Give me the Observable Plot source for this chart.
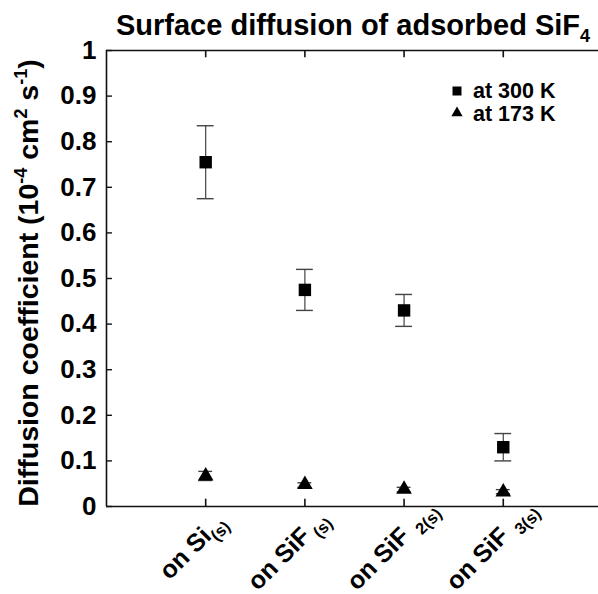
<!DOCTYPE html>
<html><head><meta charset="utf-8">
<script src="https://cdn.jsdelivr.net/npm/d3@7"></script>
<script src="https://cdn.jsdelivr.net/npm/@observablehq/plot@0.6"></script>
<style>body{margin:0;background:#fff;} svg{display:block;}</style>
</head><body><div id="chart"></div>
<script>
const categories = ["Si", "SiF", "SiF2", "SiF3"];
const catMain = ["on Si", "on SiF", "on SiF", "on SiF"];
const catSub = ["(s)", " (s)", "  2(s)", "  3(s)"];
const positions = [1, 2, 3, 4];
const d300 = [0.755, 0.475, 0.430, 0.130];
const e300lo = [0.675, 0.430, 0.395, 0.100];
const e300hi = [0.835, 0.520, 0.465, 0.160];
const d173 = [0.067, 0.048, 0.038, 0.032];
const e173lo = [0.057, 0.042, 0.032, 0.028];
const e173hi = [0.077, 0.052, 0.042, 0.037];
const yTicks = [0, 0.1, 0.2, 0.3, 0.4, 0.5, 0.6, 0.7, 0.8, 0.9, 1];
const yTickLabels = ["0", "0.1", "0.2", "0.3", "0.4", "0.5", "0.6", "0.7", "0.8", "0.9", "1"];
const legendLabels = ["at 300 K", "at 173 K"];

const s300 = positions.map((p, i) => ({x: p, y: d300[i], lo: e300lo[i], hi: e300hi[i]}));
const s173 = positions.map((p, i) => ({x: p, y: d173[i], lo: e173lo[i], hi: e173hi[i]}));
const labels = positions.map((p, i) => ({x: p, main: catMain[i], sub: catSub[i]}));
const font = "'Liberation Sans', Arial, Helvetica, sans-serif";
const cap3 = 0.085, cap1 = 0.07;

const plot = Plot.plot({
  width: 598, height: 594,
  marginTop: 50, marginBottom: 88, marginLeft: 106, marginRight: 0,
  style: {fontFamily: font, background: "#fff"},
  x: {domain: [0, 4.96], axis: null},
  y: {domain: [0, 1], axis: null},
  marks: [
    Plot.ruleX([0], {stroke: "#111", strokeWidth: 1.6}),
    Plot.ruleY([0, 1], {stroke: "#111", strokeWidth: 1.6}),
    Plot.ruleY(yTicks, {x1: 0, x2: 0.06, stroke: "#111", strokeWidth: 1.4}),
    Plot.ruleX(positions, {y1: 0, y2: 0.016, stroke: "#111", strokeWidth: 1.6}),
    Plot.ruleX(positions, {y1: 1, y2: 0.984, stroke: "#111", strokeWidth: 1.6}),
    Plot.text(yTicks, {x: 0, y: d => d, text: (d, i) => yTickLabels[i], textAnchor: "end", dx: -10, fontSize: 26, fontWeight: "bold", fill: "#000"}),
    Plot.ruleX(s300, {x: "x", y1: "lo", y2: "hi", stroke: "#444", strokeWidth: 1.2}),
    Plot.ruleY(s300, {y: "lo", x1: d => d.x - cap3, x2: d => d.x + cap3, stroke: "#444", strokeWidth: 1.4}),
    Plot.ruleY(s300, {y: "hi", x1: d => d.x - cap3, x2: d => d.x + cap3, stroke: "#444", strokeWidth: 1.4}),
    Plot.ruleX(s173, {x: "x", y1: "lo", y2: "hi", stroke: "#444", strokeWidth: 1.2}),
    Plot.ruleY(s173, {y: "lo", x1: d => d.x - cap1, x2: d => d.x + cap1, stroke: "#444", strokeWidth: 1.4}),
    Plot.ruleY(s173, {y: "hi", x1: d => d.x - cap1, x2: d => d.x + cap1, stroke: "#444", strokeWidth: 1.4}),
    Plot.dot(s300, {x: "x", y: "y", symbol: "square", r: 7, fill: "#000", stroke: "none"}),
    Plot.dot(s173, {x: "x", y: "y", symbol: "triangle", r: 5.8, fill: "#000", stroke: "none"}),
    // x category labels, rotated
    Plot.text(labels, {x: "x", y: 0, text: "main", rotate: -45, textAnchor: "end", lineAnchor: "bottom",
      dx: 7, dy: 31, fontSize: 25, fontWeight: "bold", fill: "#000"}),
    Plot.text(labels, {x: "x", y: 0, text: "sub", rotate: -45, textAnchor: "start", lineAnchor: "bottom",
      dx: 11.5, dy: 35.5, fontSize: 16.5, fontWeight: "bold", fill: "#000"})
  ]
});

const svg = d3.select(plot);
const ys = plot.scale("y");

// title
const title = svg.append("text").attr("x", 353).attr("y", 35).attr("text-anchor", "middle")
  .attr("font-family", font).attr("font-weight", "bold").attr("font-size", 29).attr("fill", "#000");
title.append("tspan").text("Surface diffusion of adsorbed SiF");
title.append("tspan").attr("font-size", 18).attr("dy", 7).text("4");

// y label
const yl = svg.append("g").attr("transform", `translate(38,${(ys.apply(0) + ys.apply(1)) / 2 + 5})`)
  .append("text").attr("transform", "rotate(-90)")
  .attr("text-anchor", "middle").attr("font-family", font).attr("font-weight", "bold").attr("font-size", 28.5).attr("fill", "#000");
yl.append("tspan").text("Diffusion coefficient (10");
yl.append("tspan").attr("font-size", 18).attr("dy", -11).text("-4");
yl.append("tspan").attr("dy", 11).text(" cm");
yl.append("tspan").attr("font-size", 18).attr("dy", -11).text("2");
yl.append("tspan").attr("dy", 11).text(" s");
yl.append("tspan").attr("font-size", 18).attr("dy", -11).text("-1");
yl.append("tspan").attr("dy", 11).text(")");

// legend
const lx = 457, ly = [91, 113], lb = [98, 121];
legendLabels.forEach((lab, i) => {
  svg.append("path").attr("transform", `translate(${lx},${ly[i]})`)
    .attr("d", d3.symbol(i === 0 ? d3.symbolSquare : d3.symbolTriangle, i === 0 ? 81 : 55)())
    .attr("fill", "#000");
  svg.append("text").attr("x", 473).attr("y", lb[i]).attr("text-anchor", "start").attr("font-family", font)
    .attr("font-weight", "bold").attr("font-size", 21.5).attr("fill", "#000").text(lab);
});

document.getElementById("chart").appendChild(plot);
</script></body></html>
